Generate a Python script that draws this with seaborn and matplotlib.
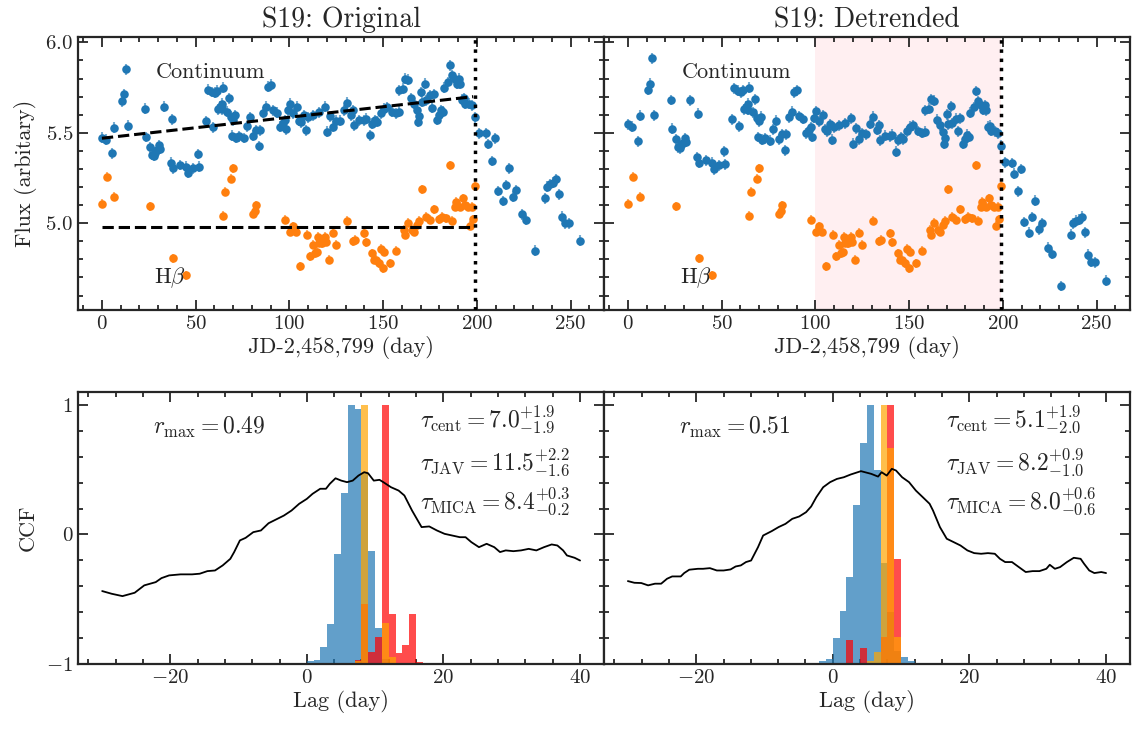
import numpy as np
import matplotlib
matplotlib.use("Agg")
import matplotlib.pyplot as plt
import seaborn as sns
from matplotlib.ticker import MultipleLocator

# -----------------------------
# light curves, original fluxes
# -----------------------------
cont_day = [0, 2.3, 5.3, 6.7, 10.6, 11.7, 12.7, 13.8, 23.0, 23.6, 25.7, 26.6, 27.8, 28.4, 29.2,
            30.7, 31.0, 33.3, 36.7, 37.2, 38.1, 41.6, 44.8, 46.1, 48.7, 51.0, 51.9, 55.5, 56.7,
            58.5, 59.4, 60.3, 61.2, 62.0, 62.9, 63.8, 64.3, 64.7, 66.5, 67.7, 68.6, 69.5, 69.7,
            70.9, 71.4, 73.0, 75.9, 77.6, 79.2, 80.7, 82.4, 83.7, 84.2, 86.0, 87.7, 88.6, 90.4,
            91.3, 93.4, 94.8, 96.6, 97.8, 98.4, 99.3, 100.2, 101.9, 104.1, 104.9, 106.0, 107.8,
            109.0, 109.9, 112.6, 115.8, 118.8, 120.0, 121.4, 123.2, 124.6, 127.2, 129.0, 130.8,
            132.6, 134.0, 134.7, 137.0, 139.7, 140.6, 142.9, 144.1, 145.4, 146.8, 148.6, 150.4,
            151.8, 154.8, 156.6, 158.4, 158.7, 160.7, 161.9, 163.2, 164.6, 166.4, 167.8, 168.5,
            169.0, 170.3, 170.8, 172.2, 173.1, 174.9, 176.2, 177.0, 178.5, 179.7, 180.6, 182.0,
            182.7, 184.5, 185.9, 186.8, 188.1, 189.5, 190.4, 190.9, 192.2, 193.1, 193.9, 195.7,
            197.5, 198.8, 201.1, 204.6, 205.9, 207.8, 209.4, 211.2, 213.9, 215.7, 217.1, 219.4,
            221.0, 223.8, 226.0, 231.0, 236.3, 237.5, 239.0, 240.7, 242.0, 243.8, 245.6, 246.8,
            248.9, 254.8]
cont_flux = [5.474, 5.463, 5.386, 5.528, 5.675, 5.712, 5.852, 5.539, 5.634, 5.477, 5.419, 5.377,
             5.373, 5.390, 5.404, 5.432, 5.413, 5.644, 5.335, 5.574, 5.303, 5.322, 5.313, 5.279,
             5.303, 5.383, 5.313, 5.565, 5.739, 5.726, 5.531, 5.721, 5.732, 5.629, 5.644, 5.662,
             5.629, 5.750, 5.616, 5.690, 5.588, 5.484, 5.570, 5.598, 5.471, 5.480, 5.471, 5.535,
             5.585, 5.484, 5.515, 5.427, 5.515, 5.611, 5.644, 5.754, 5.767, 5.625, 5.611, 5.533,
             5.552, 5.570, 5.519, 5.625, 5.662, 5.607, 5.644, 5.567, 5.558, 5.598, 5.515, 5.585,
             5.598, 5.614, 5.644, 5.506, 5.592, 5.533, 5.567, 5.566, 5.625, 5.666, 5.597, 5.625,
             5.542, 5.570, 5.570, 5.579, 5.487, 5.551, 5.570, 5.561, 5.607, 5.634, 5.643, 5.616,
             5.607, 5.616, 5.735, 5.745, 5.800, 5.794, 5.690, 5.662, 5.625, 5.561, 5.592, 5.726,
             5.671, 5.772, 5.680, 5.708, 5.640, 5.713, 5.573, 5.598, 5.625, 5.616, 5.750, 5.781,
             5.873, 5.818, 5.800, 5.772, 5.800, 5.772, 5.684, 5.690, 5.662, 5.662, 5.653, 5.585,
             5.497, 5.497, 5.438, 5.344, 5.469, 5.178, 5.123, 5.211, 5.303, 5.147, 5.184, 5.050,
             5.018, 4.847, 5.138, 5.202, 5.217, 5.224, 5.243, 5.160, 5.037, 5.000, 5.000, 4.904]
cont_err = 0.03

hb_day = [0, 2.6, 6.7, 25.7, 37.8, 44.9, 64.7, 65.6, 68.6, 69.7, 80.7, 81.5, 82.4, 97.5, 100.5,
          101.9, 103.7, 105.5, 109.6, 111.2, 112.6, 113.5, 114.7, 115.3, 115.8, 117.6, 118.8,
          119.7, 121.1, 123.2, 124.6, 130.8, 134.0, 135.2, 139.7, 140.6, 144.1, 145.0, 146.4,
          147.7, 148.6, 150.0, 150.7, 153.9, 157.1, 161.0, 161.9, 163.2, 165.5, 166.4, 167.8,
          169.0, 170.8, 172.6, 174.9, 177.0, 179.7, 181.5, 183.3, 185.9, 186.8, 188.1, 189.1,
          190.9, 192.7, 193.9, 195.2, 196.3, 197.5, 198.0, 198.9]
hb_flux = [5.107, 5.257, 5.147, 5.095, 4.807, 4.711, 5.042, 5.175, 5.245, 5.303, 5.052, 5.067,
           5.100, 5.018, 4.954, 4.982, 4.954, 4.761, 4.937, 4.816, 4.880, 4.834, 4.843, 4.926,
           4.893, 4.889, 4.926, 4.898, 4.797, 4.948, 4.880, 5.013, 4.899, 4.908, 4.945, 4.895,
           4.834, 4.798, 4.798, 4.779, 4.858, 4.751, 4.843, 4.779, 4.847, 4.963, 4.936, 5.003,
           4.963, 4.954, 4.991, 5.015, 5.187, 5.037, 5.018, 5.077, 5.022, 5.037, 5.027, 5.321,
           5.015, 5.092, 5.120, 5.092, 5.138, 5.101, 5.092, 4.985, 5.092, 5.022, 5.206]
hb_err = 0.025

# linear trends drawn in the left panel
cont_trend_day = [0, 198]
cont_trend_flux = [5.47, 5.70]
hb_trend_day = [0, 198]
hb_trend_flux = [4.98, 4.98]
detrend_level = 5.544      # level the detrended continuum is put back on
window_end = 199           # dotted line
detrend_window = [100, 199]

# -----------------------------
# CCF curves
# -----------------------------
ccf_lag_L = [-29.96, -28.56, -26.99, -25.2, -23.8, -22.12, -21.28, -20.16, -18.48, -16.8, -15.68,
             -14.56, -13.44, -12.32, -11.2, -10.64, -9.8, -8.96, -7.84, -6.72, -5.6, -3.36, -2.24,
             -1.12, 0.0, 0.84, 1.96, 2.8, 3.36, 4.2, 5.04, 5.88, 6.72, 7.56, 8.4, 8.96, 9.8, 10.64,
             11.2, 12.32, 13.44, 14.28, 15.4, 16.24, 16.8, 17.92, 19.04, 20.16, 21.28, 22.4, 23.24,
             24.08, 25.2, 26.32, 27.44, 28.28, 29.12, 30.24, 31.36, 32.48, 33.6, 34.72, 35.84,
             36.68, 37.52, 38.08, 39.2, 40.0]
ccf_L = [-0.437, -0.458, -0.476, -0.45, -0.393, -0.368, -0.337, -0.316, -0.308, -0.308, -0.303,
         -0.283, -0.278, -0.239, -0.188, -0.136, -0.046, -0.026, 0.018, 0.031, 0.087, 0.146, 0.185,
         0.237, 0.275, 0.314, 0.353, 0.353, 0.391, 0.434, 0.416, 0.404, 0.416, 0.455, 0.481, 0.473,
         0.416, 0.422, 0.404, 0.365, 0.339, 0.301, 0.185, 0.108, 0.057, 0.062, 0.031, 0.005, -0.008,
         -0.021, -0.021, -0.059, -0.098, -0.072, -0.098, -0.136, -0.123, -0.129, -0.123, -0.111,
         -0.123, -0.098, -0.077, -0.085, -0.123, -0.162, -0.18, -0.201]

ccf_lag_R = [-30.0, -29.05, -28.04, -27.04, -26.03, -25.13, -24.27, -23.52, -22.26, -21.76, -21.01,
             -19.75, -19.0, -17.99, -16.98, -15.98, -14.97, -14.22, -13.47, -12.71, -11.96, -10.95,
             -10.2, -8.94, -7.94, -6.93, -5.93, -4.92, -3.92, -3.17, -2.41, -1.41, -0.4, 0.6, 1.61,
             2.61, 4.12, 5.63, 6.63, 7.14, 7.89, 8.64, 9.25, 10.15, 11.16, 12.16, 13.17, 14.17,
             14.67, 15.68, 16.68, 17.69, 18.69, 19.7, 20.7, 21.71, 22.71, 23.72, 24.47, 25.23,
             26.23, 27.24, 28.24, 29.25, 30.25, 31.26, 31.76, 32.51, 33.27, 34.27, 35.28, 36.28,
             36.78, 37.54, 38.29, 39.3, 40.0]
ccf_R = [-0.36, -0.373, -0.375, -0.393, -0.38, -0.38, -0.342, -0.324, -0.324, -0.298, -0.272,
         -0.265, -0.265, -0.26, -0.278, -0.278, -0.27, -0.247, -0.239, -0.213, -0.201, -0.098,
         -0.008, 0.026, 0.057, 0.082, 0.121, 0.139, 0.172, 0.216, 0.288, 0.365, 0.404, 0.429,
         0.442, 0.463, 0.489, 0.468, 0.447, 0.481, 0.455, 0.507, 0.494, 0.442, 0.404, 0.339,
         0.288, 0.237, 0.185, 0.057, -0.033, -0.059, -0.085, -0.123, -0.144, -0.149, -0.144,
         -0.149, -0.188, -0.213, -0.213, -0.252, -0.29, -0.283, -0.283, -0.265, -0.234, -0.265,
         -0.252, -0.213, -0.18, -0.188, -0.226, -0.278, -0.298, -0.29, -0.298]

# -----------------------------
# lag distributions (1-day bins, left edges, peak-normalised)
# -----------------------------
cent_bin_L = [-1, 0, 1, 2, 3, 4, 5, 6, 7, 8, 9, 10, 11]
cent_h_L = [0.005, 0.012, 0.015, 0.066, 0.155, 0.424, 0.661, 1.0, 0.985, 0.736, 0.435, 0.14, 0.02]
jav_bin_L = [7, 8, 9, 10, 11, 12, 13, 14, 15, 16, 17, 18]
jav_h_L = [0.014, 0.23, 0.048, 0.104, 1.0, 0.194, 0.042, 0.075, 0.194, 0.006, 0.004, 0.004]
mica_bin_L = [7, 8, 11, 12]
mica_h_L = [0.01, 1.0, 0.158, 0.027]

cent_bin_R = [-2, -1, 0, 1, 2, 3, 4, 5, 6, 7, 8, 9, 10, 11]
cent_h_R = [0.013, 0.02, 0.099, 0.205, 0.337, 0.614, 0.852, 1.0, 0.749, 0.39, 0.2, 0.05, 0.028, 0.013]
jav_bin_R = [2, 4, 7, 8, 9]
jav_h_R = [0.093, 0.061, 0.105, 1.0, 0.404]
mica_bin_R = [5, 6, 7, 8, 9]
mica_h_R = [0.013, 0.045, 1.0, 0.833, 0.105]

txt_L = [r"$r_{\rm max}=0.49$", r"$\tau_{\rm cent}=7.0^{+1.9}_{-1.9}$",
         r"$\tau_{\rm JAV}=11.5^{+2.2}_{-1.6}$", r"$\tau_{\rm MICA}=8.4^{+0.3}_{-0.2}$"]
txt_R = [r"$r_{\rm max}=0.51$", r"$\tau_{\rm cent}=5.1^{+1.9}_{-2.0}$",
         r"$\tau_{\rm JAV}=8.2^{+0.9}_{-1.0}$", r"$\tau_{\rm MICA}=8.0^{+0.6}_{-0.6}$"]

# -----------------------------
# style
# -----------------------------
sns.set_style("ticks")
plt.rcParams.update({
    "font.family": "serif",
    "font.serif": ["cmr10"],
    "mathtext.fontset": "cm",
    "axes.formatter.use_mathtext": True,
    "axes.linewidth": 1.6,
    "xtick.labelsize": 15,
    "ytick.labelsize": 15,
})

cont_day = np.array(cont_day)
cont_flux = np.array(cont_flux)
fit = np.polyfit(cont_trend_day, cont_trend_flux, 1)
cont_detr = cont_flux - np.polyval(fit, cont_day) + detrend_level


def style(ax, xmaj, xmin, ymaj, ymin):
    ax.xaxis.set_major_locator(MultipleLocator(xmaj))
    ax.xaxis.set_minor_locator(MultipleLocator(xmin))
    ax.yaxis.set_major_locator(MultipleLocator(ymaj))
    ax.yaxis.set_minor_locator(MultipleLocator(ymin))
    ax.tick_params(which="both", direction="in", top=True, right=True, width=1.3)
    ax.tick_params(which="major", length=7)
    ax.tick_params(which="minor", length=3.5)
    for s in ax.spines.values():
        s.set_linewidth(1.6)


def light_curve(ax, flux, title, trend, shade):
    if shade:
        ax.axvspan(detrend_window[0], detrend_window[1], color="pink", alpha=0.25, lw=0, zorder=0)
    ax.errorbar(cont_day, flux, yerr=cont_err, fmt="none", ecolor="C0", alpha=0.6, elinewidth=1.5, zorder=2)
    ax.errorbar(hb_day, hb_flux, yerr=hb_err, fmt="none", ecolor="C1", alpha=0.6, elinewidth=1.5, zorder=2)
    sns.scatterplot(x=cont_day, y=flux, color="C0", s=38, linewidth=0, ax=ax, zorder=3)
    sns.scatterplot(x=hb_day, y=hb_flux, color="C1", s=38, linewidth=0, ax=ax, zorder=3)
    if trend:
        ax.plot(cont_trend_day, cont_trend_flux, "k--", lw=2.2, zorder=4)
        ax.plot(hb_trend_day, hb_trend_flux, "k--", lw=2.2, zorder=4)
    ax.axvline(window_end, color="k", ls=":", lw=2.5, zorder=4)
    ax.text(58, 5.835, "Continuum", fontsize=16, ha="center", va="center")
    ax.text(36.5, 4.70, r"H$\beta$", fontsize=16, ha="center", va="center")
    ax.set_xlim(-12.75, 267.75)
    ax.set_ylim(4.52, 6.03)
    ax.set_xlabel("JD-2,458,799 (day)", fontsize=16, labelpad=2)
    ax.set_title(title, fontsize=20, pad=7)
    style(ax, 50, 10, 0.5, 0.1)


def ccf_panel(ax, lag, ccf, cent, jav, mica, txt):
    for (b, h), c in zip([cent, jav, mica], ["C0", "red", "orange"]):
        ax.bar(np.array(b) + 0.5, 2 * np.array(h), width=1.0, bottom=-1, color=c,
               alpha=0.7, linewidth=0, zorder=1)
    sns.lineplot(x=lag, y=ccf, color="k", lw=1.3, ax=ax, zorder=3)
    ax.text(-22.5, 0.83, txt[0], fontsize=17, ha="left", va="center")
    ax.text(16.6, 0.89, txt[1], fontsize=17, ha="left", va="center")
    ax.text(16.6, 0.56, txt[2], fontsize=17, ha="left", va="center")
    ax.text(16.6, 0.26, txt[3], fontsize=17, ha="left", va="center")
    ax.set_xlim(-33.5, 43.5)
    ax.set_ylim(-1, 1.1)
    ax.set_xlabel("Lag (day)", fontsize=16, labelpad=2)
    style(ax, 20, 4, 1, 0.2)


fig = plt.figure(figsize=(11.37, 7.31), dpi=100)
w = 0.4626
ax1 = fig.add_axes([0.0686, 0.5759, w, 0.3735])
ax2 = fig.add_axes([0.0686 + w, 0.5759, w, 0.3735])
ax3 = fig.add_axes([0.0686, 0.0917, w, 0.372])
ax4 = fig.add_axes([0.0686 + w, 0.0917, w, 0.372])

light_curve(ax1, cont_flux, "S19: Original", True, False)
light_curve(ax2, cont_detr, "S19: Detrended", False, True)
ax1.set_ylabel("Flux (arbitary)", fontsize=16, labelpad=6)
ax2.set_ylabel("")
ax2.tick_params(labelleft=False)

ccf_panel(ax3, ccf_lag_L, ccf_L, (cent_bin_L, cent_h_L), (jav_bin_L, jav_h_L),
          (mica_bin_L, mica_h_L), txt_L)
ccf_panel(ax4, ccf_lag_R, ccf_R, (cent_bin_R, cent_h_R), (jav_bin_R, jav_h_R),
          (mica_bin_R, mica_h_R), txt_R)
ax3.set_ylabel("CCF", fontsize=16, labelpad=6)
ax4.set_ylabel("")
ax4.tick_params(labelleft=False)

fig.savefig("out.png", dpi=100)
